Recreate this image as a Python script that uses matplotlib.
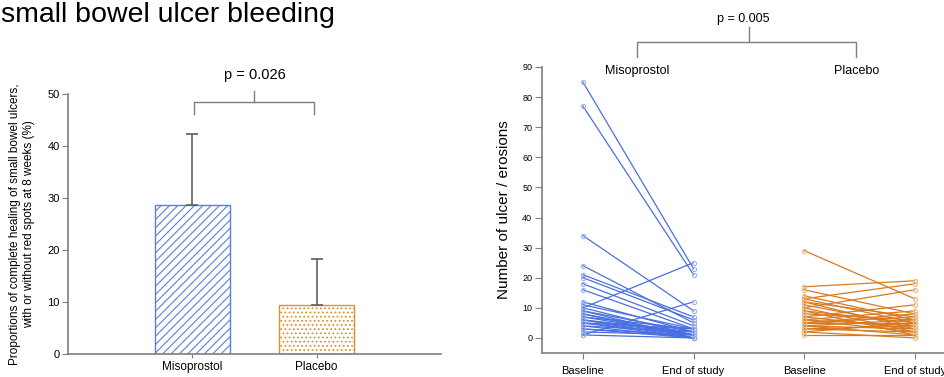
import numpy as np
import matplotlib.pyplot as plt

plt.rcParams['font.family'] = ['Liberation Sans', 'DejaVu Sans']
plt.rcParams['hatch.linewidth'] = 0.8

# left panel: healing proportions (%)
groups = ["Misoprostol", "Placebo"]
heal_pct = [28.6, 9.5]
heal_upper = [42.3, 18.3]
p_left = "p = 0.026"

# right panel: number of ulcers / erosions per patient
miso_base = [85, 77, 34, 24, 21, 20, 18, 16, 12, 11, 10, 10, 9, 9, 8, 8,
             7, 7, 6, 6, 6, 5, 5, 5, 4, 4, 3, 3, 2, 1, 1]
miso_end = [23, 21, 9, 5, 7, 6, 4, 3, 2, 3, 25, 1, 0, 2, 1, 0,
            3, 1, 0, 2, 1, 0, 3, 1, 0, 2, 1, 0, 1, 12, 0]
plac_base = [29, 17, 16, 14, 13, 13, 12, 12, 11, 10, 10, 9, 9, 8, 7, 7,
             6, 6, 6, 5, 5, 5, 4, 4, 4, 3, 3, 2, 2, 1]
plac_end = [13, 19, 8, 6, 18, 5, 7, 3, 4, 16, 2, 5, 1, 6, 11, 3,
            9, 4, 2, 8, 5, 7, 3, 6, 1, 4, 2, 5, 0, 1]
time_labels = ["Baseline", "End of study", "Baseline", "End of study"]
p_right = "p = 0.005"

blue = "#4a6fe0"
blue_light = "#9db2ec"
orange = "#d97a1f"
orange_light = "#e6bf85"
gray = "#7f7f7f"

fig = plt.figure(figsize=(9.45, 3.77), dpi=100)

fig.text(0.001, 1 - 22 / 377, "small bowel ulcer bleeding", fontsize=20.5,
         va="baseline", ha="left")

# ---- left panel ----
ax1 = fig.add_axes([68 / 945, 23 / 377, 373 / 945, 260 / 377])
xpos = [1, 2]
err = [[0, 0], [heal_upper[i] - heal_pct[i] for i in range(2)]]
ax1.bar(xpos[0], heal_pct[0], width=0.6, facecolor="white", edgecolor="#5b7fdc",
        hatch="////", linewidth=1.0)
ax1.bar(xpos[1], heal_pct[1], width=0.6, facecolor="white", edgecolor="#e0902f",
        hatch="....", linewidth=1.0)
ax1.errorbar(xpos, heal_pct, yerr=err, fmt="none", ecolor="#606060",
             elinewidth=1.2, capsize=4, capthick=1.2)
ax1.set_xlim(0, 3)
ax1.set_ylim(0, 50)
ax1.set_yticks(range(0, 51, 10))
ax1.set_xticks(xpos)
ax1.set_xticklabels(groups, fontsize=8.5)
ax1.tick_params(axis="y", labelsize=8, length=4, color=gray, pad=2)
ax1.tick_params(axis="x", length=3, color=gray, pad=2)
for s in ["top", "right"]:
    ax1.spines[s].set_visible(False)
for s in ["left", "bottom"]:
    ax1.spines[s].set_color(gray)
    ax1.spines[s].set_linewidth(1.2)
ax1.set_ylabel("Proportions of complete healing of small bowel ulcers,\n"
               "with or without red spots at 8 weeks (%)", fontsize=8.5, labelpad=9)
ax1.plot([1.01, 1.01, 1.98, 1.98], [46.2, 48.5, 48.5, 46.2], color=gray,
         lw=1.0, clip_on=False)
ax1.plot([1.5, 1.5], [48.5, 50.6], color=gray, lw=1.0, clip_on=False)
ax1.text(1.5, 53.6, p_left, ha="center", va="center", fontsize=10.5)

# ---- right panel ----
ax2 = fig.add_axes([542 / 945, 24 / 377, 417 / 945, 286 / 377])
for b, e in zip(miso_base, miso_end):
    ax2.plot([0, 1], [b, e], color=blue, lw=0.9, marker="o", markersize=3,
             markerfacecolor="none", markeredgecolor=blue_light, markeredgewidth=0.8)
for b, e in zip(plac_base, plac_end):
    ax2.plot([2, 3], [b, e], color=orange, lw=0.9, marker="o", markersize=3,
             markerfacecolor="none", markeredgecolor=orange_light, markeredgewidth=0.8)
ax2.set_xlim(-0.37, 3.4)
ax2.set_ylim(-5, 90)
ax2.set_yticks(range(0, 91, 10))
ax2.set_xticks([0, 1, 2, 3])
ax2.set_xticklabels(time_labels, fontsize=8)
ax2.tick_params(axis="y", labelsize=6.5, length=5, color=gray, pad=2)
ax2.tick_params(axis="x", length=4, color=gray, pad=5)
for s in ["top", "right"]:
    ax2.spines[s].set_visible(False)
for s in ["left", "bottom"]:
    ax2.spines[s].set_color(gray)
    ax2.spines[s].set_linewidth(1.2)
ax2.set_ylabel("Number of ulcer / erosions", fontsize=11, labelpad=8)
ax2.text(0.49, 88.7, "Misoprostol", ha="center", va="center", fontsize=9)
ax2.text(2.47, 88.7, "Placebo", ha="center", va="center", fontsize=9)
ax2.plot([0.49, 0.49, 2.47, 2.47], [93.3, 98.3, 98.3, 93.3], color=gray,
         lw=1.0, clip_on=False)
ax2.plot([1.5, 1.5], [98.3, 103.3], color=gray, lw=1.0, clip_on=False)
ax2.text(1.45, 106, p_right, ha="center", va="center", fontsize=9)

fig.savefig("out.png", dpi=100)
